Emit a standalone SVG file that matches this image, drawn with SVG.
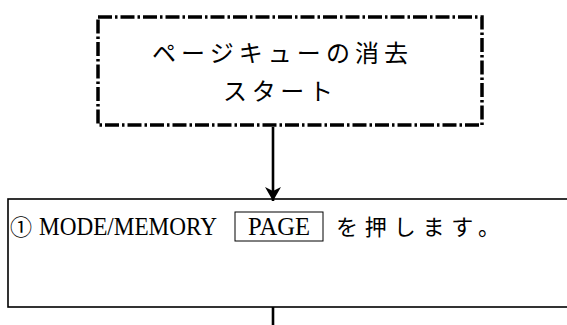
<svg xmlns="http://www.w3.org/2000/svg" width="567" height="325" viewBox="0 0 567 325">
<style>
.jp{font-family:"Noto Sans CJK JP","Noto Sans",sans-serif;fill:#000}
.lat{font-family:"Liberation Serif","DejaVu Serif",serif;fill:#000}
.dash{fill:none;stroke:#000;stroke-width:3.5;stroke-dasharray:14 3 2.5 3}
.solid{fill:none;stroke:#000;stroke-width:1.6}
.conn{stroke:#000;stroke-width:2.6;fill:none}
</style>
<defs>
<marker id="ah" markerWidth="14" markerHeight="16" refX="14" refY="8" orient="auto" markerUnits="userSpaceOnUse" viewBox="0 0 14 16">
<path d="M0,0 L14,8 L0,16 L4,8 Z" fill="#000"/>
</marker>
</defs>
<rect width="567" height="325" fill="#fff"/>
<g id="start">
<rect class="dash" x="98" y="17" width="384" height="108"/>
<text class="jp" x="280" y="62" font-size="24" text-anchor="middle" textLength="256" lengthAdjust="spacing">ページキューの消去</text>
<text class="jp" x="278" y="100" font-size="24" text-anchor="middle" textLength="110" lengthAdjust="spacing">スタート</text>
</g>
<g id="step1">
<rect class="solid" x="8" y="199" width="575" height="108"/>
<text class="jp" x="10" y="235" font-size="22">①</text>
<text class="lat" x="39" y="235" font-size="25" textLength="178" lengthAdjust="spacingAndGlyphs">MODE/MEMORY</text>
<rect x="235" y="212" width="88" height="29" fill="none" stroke="#000" stroke-width="1"/>
<text class="lat" x="279" y="235" font-size="25" text-anchor="middle" textLength="62" lengthAdjust="spacingAndGlyphs">PAGE</text>
<text class="jp" x="336" y="235" font-size="22" textLength="164" lengthAdjust="spacing">を押します。</text>
</g>
<g id="connectors">
<line class="conn" x1="273" y1="127" x2="273" y2="201" marker-end="url(#ah)"/>
<line class="conn" x1="273" y1="307" x2="273" y2="325"/>
</g>
</svg>
